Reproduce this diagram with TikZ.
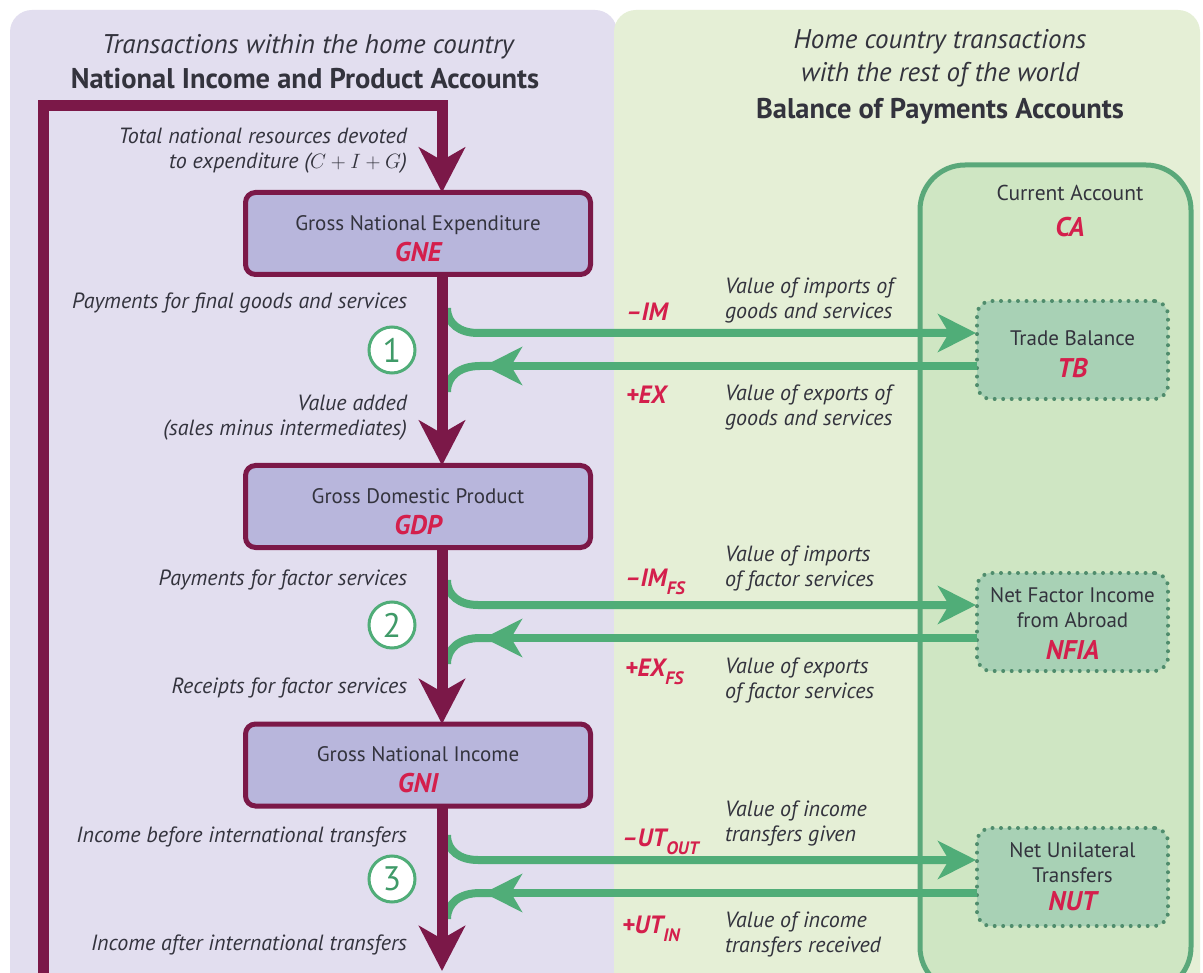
\documentclass[tikz,border=0pt]{standalone}
\usepackage{fontspec}
\setmainfont{PT Sans}
\usetikzlibrary{arrows.meta,calc}
\definecolor{lav}{HTML}{E2DEEF}
\definecolor{grn}{HTML}{E5EFD6}
\definecolor{maroon}{HTML}{7B1848}
\definecolor{boxfill}{HTML}{B8B6DC}
\definecolor{redlab}{HTML}{D41F4C}
\definecolor{arrgreen}{HTML}{50AD78}
\definecolor{caline}{HTML}{5AA87A}
\definecolor{cafill}{HTML}{CFE6C3}
\definecolor{dotfill}{HTML}{A8D1B5}
\definecolor{dotline}{HTML}{4F8C6C}
\definecolor{txt}{HTML}{33333D}
\definecolor{numgreen}{HTML}{3F9A68}
\newcommand\fsz[2]{\fontsize{#1}{#2}\selectfont}
\newcommand\acr[1]{{\fsz{27}{31}\bfseries\itshape\color{redlab}#1}}
\newcommand\sbs[1]{\raisebox{-0.32em}{\fsz{18}{18}\selectfont #1}}
\newcommand\tstrut[1]{\rule{0pt}{#1}}
\begin{document}
\begin{tikzpicture}[x=1pt,y=-1pt,
  every node/.style={inner sep=0pt, outer sep=0pt, text=txt},
  mbox/.style={draw=maroon, line width=5pt, fill=boxfill, rounded corners=10pt,
    minimum width=345pt, minimum height=82pt, align=center, font=\fsz{21}{31}},
  dotbox/.style={draw=dotline, line width=4pt, dash pattern=on 0pt off 8.5pt,
    line cap=round, fill=dotfill, rounded corners=14pt, minimum width=191pt,
    minimum height=98pt, align=center, font=\fsz{21}{25}},
  cabox/.style={draw=caline, line width=5pt, fill=cafill, rounded corners=45pt},
  lbl/.style={font=\itshape\fsz{22}{25}},
  ttl/.style={font=\itshape\fsz{27}{31}},
  bttl/.style={font=\bfseries\fsz{28.5}{31}},
  redlbl/.style={font=\bfseries\itshape\fsz{25}{26}, text=redlab, anchor=base west},
  num/.style={circle, draw=arrgreen, line width=3pt, fill=white, minimum size=46pt,
    text=numgreen, font=\fsz{34}{34}},
  flow/.style={draw=maroon, line width=11pt},
  flowtip/.style={-{Stealth[length=45pt,width=46pt,inset=13pt]}},
  garr/.style={draw=arrgreen, line width=8pt},
  gtip/.style={-{Stealth[length=38pt,width=38pt,inset=11pt]}}
]
\useasboundingbox (0,0) rectangle (1203,973);
\clip (0,0) rectangle (1203,973);
\fill[white] (0,0) rectangle (1203,973);
% panels
\fill[lav, rounded corners=22pt] (10,10) rectangle (617,1010);
\fill[grn, rounded corners=22pt] (614,10) rectangle (1200,1010);

% titles
\node[ttl] (t1) at (308,47) {Transactions within the home country};
\node[bttl] (t2) at (305,79) {National Income and Product Accounts};
\node[ttl] (t3) at (940,42) {Home country transactions};
\node[ttl] (t4) at (940,75) {with the rest of the world};
\node[bttl] (t5) at (940,111) {Balance of Payments Accounts};

% current account container
\node[cabox, minimum width=271pt, minimum height=827pt] (CAbox) at (1055.5,578.5) {};
\node[font=\fsz{21.5}{25}] (cat) at (1070,193) {Current Account};
\node (cac) at (1070,227) {\acr{CA}};

% boxes
\node[mbox] (GNE) at (418,233.5) {\tstrut{25pt}Gross National Expenditure\\\acr{GNE}};
\node[mbox] (GDP) at (418,506.5) {\tstrut{25pt}Gross Domestic Product\\\acr{GDP}};
\node[mbox] (GNI) at (418,765) {\tstrut{25pt}Gross National Income\\\acr{GNI}};

\node[dotbox] (TB) at (1072.5,350) {\tstrut{24pt}Trade Balance\\[7pt]\acr{TB}};
\node[dotbox] (NFIA) at (1072.5,622) {\tstrut{19pt}Net Factor Income\\from Abroad\\[7pt]\acr{NFIA}};
\node[dotbox] (NUT) at (1072.5,877) {Net Unilateral\\Transfers\\[3pt]\acr{NUT}};

\coordinate (spine) at (442,0);
\coordinate (circx) at (392,0);

% green arrows
\foreach \b in {TB,NFIA,NUT}{
  \draw[garr,gtip] ($(spine |- \b.center)+(5,-42)$) .. controls +(0,16) and +(-18,0) ..
     ($(spine |- \b.center)+(36,-17)$) -- ($(\b.west)+(-1,-17)$);
  \draw[garr,gtip] ($(\b.west)+(0,16)$) -- ($(spine |- \b.center)+(42,16)$);
  \draw[garr] ($(spine |- \b.center)+(62,16)$) -- ($(spine |- \b.center)+(38,16)$)
     .. controls +(-20,0) and +(0,-16) .. ($(spine |- \b.center)+(5,42)$);
}

% maroon flow
\coordinate (loopbl) at (43,1000);
\coordinate (looptl) at (43,106);
\coordinate (bottip) at (442,971);
\draw[flow,flowtip] (loopbl) -- (looptl) -- (spine |- looptl) -- (GNE.north -| spine);
\draw[flow,flowtip] (GNE.south -| spine) -- (GDP.north -| spine);
\draw[flow,flowtip] (GDP.south -| spine) -- (GNI.north -| spine);
\draw[flow,flowtip] (GNI.south -| spine) -- (bottip);

% circled numbers
\node[num] (n1) at (circx |- TB.center) {1};
\node[num] (n2) at ($(circx |- NFIA.center)+(0,3)$) {2};
\node[num] (n3) at ($(circx |- NUT.center)+(0,2)$) {3};

% left labels
\node[lbl, anchor=east, align=right] (l1) at (407,151) {Total national resources devoted\\to expenditure ($C + I + G$)};
\node[lbl, anchor=east] (l2) at (407,303) {Payments for final goods and services};
\node[lbl, anchor=east, align=right] (l3) at (407,418) {Value added\\(sales minus intermediates)};
\node[lbl, anchor=east] (l4) at (407,580) {Payments for factor services};
\node[lbl, anchor=east] (l5) at (407,688) {Receipts for factor services};
\node[lbl, anchor=east] (l6) at (407,837) {Income before international transfers};
\node[lbl, anchor=east] (l7) at (407,945) {Income after international transfers};

% right descriptions
\node[lbl, anchor=west, align=left] (r1) at (725,301) {Value of imports of\\goods and services};
\node[lbl, anchor=west, align=left] (r2) at (725,408) {Value of exports of\\goods and services};
\node[lbl, anchor=west, align=left] (r3) at (725,568) {Value of imports\\of factor services};
\node[lbl, anchor=west, align=left] (r4) at (725,680) {Value of exports\\of factor services};
\node[lbl, anchor=west, align=left] (r5) at (725,823) {Value of income\\transfers given};
\node[lbl, anchor=west, align=left] (r6) at (725,934) {Value of income\\transfers received};

% red flow labels
\node[redlbl] (m1) at (626,321) {–IM};
\node[redlbl] (p1) at (626,404) {+EX};
\node[redlbl] (m2) at (625,586) {–IM\sbs{FS}};
\node[redlbl] (p2) at (625,676) {+EX\sbs{FS}};
\node[redlbl] (m3) at (622,846) {–UT\sbs{OUT}};
\node[redlbl] (p3) at (622,933) {+UT\sbs{IN}};
\end{tikzpicture}
\end{document}
